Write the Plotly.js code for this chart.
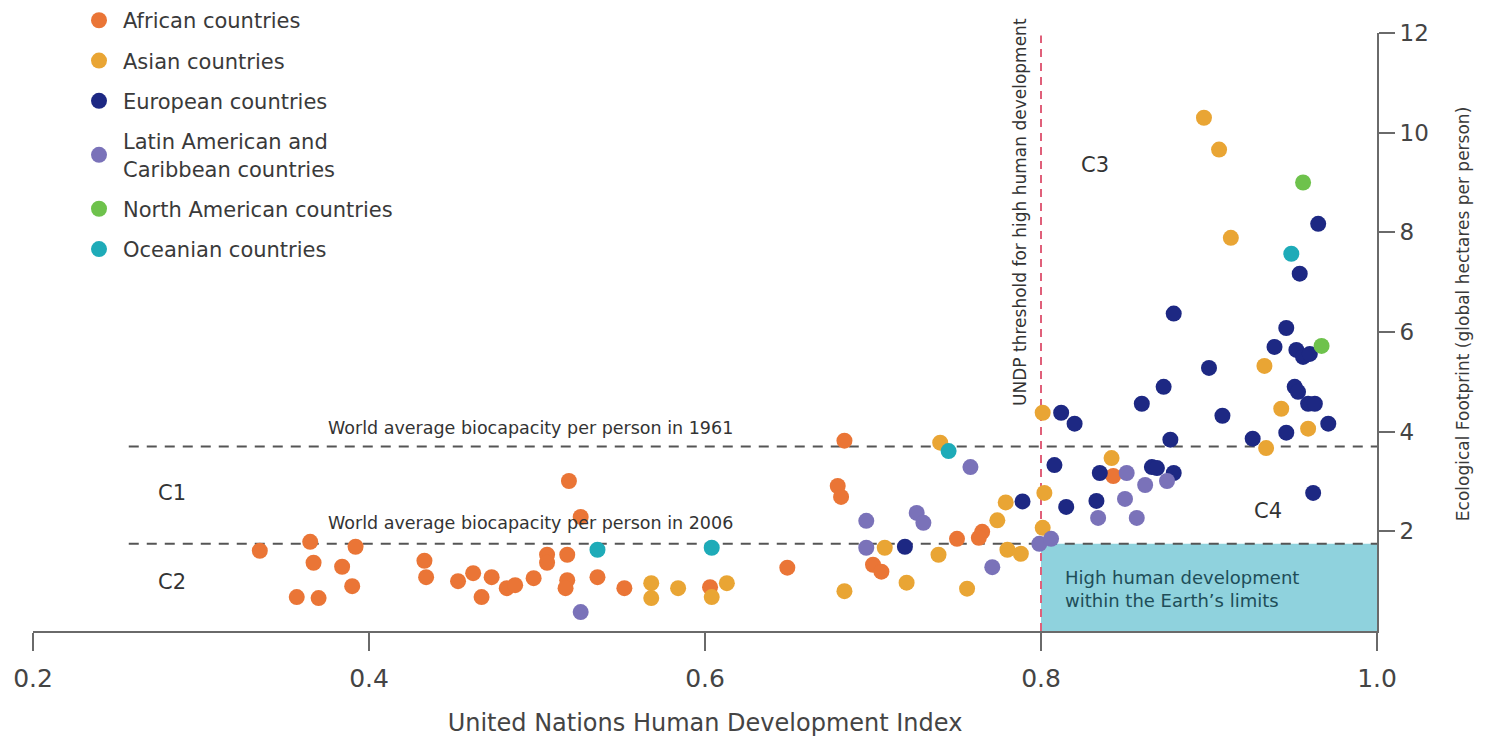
<!DOCTYPE html>
<html>
<head>
<meta charset="utf-8">
<script src="https://cdn.plot.ly/plotly-3.0.1.min.js"></script>
<style>html,body{margin:0;padding:0;background:#fff;}#chart{width:1495px;height:743px;}</style>
</head>
<body>
<div id="chart"></div>
<script>
// ---- Data (HDI on x, Ecological Footprint on y) ----
const africaX = [0.519,0.526,0.335,0.365,0.392,0.367,0.384,0.390,0.357,0.370,0.433,0.434,0.453,0.462,0.473,0.467,0.482,0.487,0.498,0.506,0.506,0.518,0.518,0.517,0.536,0.552,0.683,0.679,0.681,0.750,0.765,0.763,0.603,0.649,0.700,0.705,0.843];
const africaY = [3.01,2.29,1.61,1.79,1.69,1.37,1.29,0.90,0.68,0.66,1.41,1.08,1.00,1.16,1.08,0.68,0.86,0.92,1.06,1.53,1.37,1.53,1.02,0.86,1.08,0.86,3.82,2.91,2.69,1.85,1.99,1.87,0.88,1.27,1.33,1.19,3.11];

const asiaX = [0.740,0.779,0.802,0.774,0.801,0.707,0.739,0.780,0.788,0.568,0.568,0.584,0.604,0.613,0.683,0.720,0.756,0.897,0.906,0.913,0.933,0.943,0.801,0.959,0.934,0.842];
const asiaY = [3.78,2.58,2.77,2.22,2.07,1.67,1.53,1.63,1.55,0.96,0.66,0.86,0.68,0.96,0.80,0.97,0.85,10.30,9.66,7.89,5.32,4.46,4.38,4.06,3.67,3.47];

const europeX = [0.789,0.719,0.879,0.946,0.939,0.952,0.956,0.960,0.900,0.873,0.951,0.953,0.860,0.959,0.963,0.908,0.812,0.820,0.971,0.946,0.877,0.926,0.808,0.835,0.866,0.869,0.879,0.815,0.833,0.962,0.965,0.954];
const europeY = [2.60,1.69,6.37,6.08,5.70,5.64,5.50,5.56,5.28,4.90,4.90,4.80,4.56,4.56,4.56,4.32,4.38,4.16,4.16,3.98,3.84,3.86,3.33,3.17,3.29,3.27,3.17,2.49,2.61,2.77,8.17,7.17];

const latamX = [0.526,0.758,0.696,0.726,0.730,0.696,0.799,0.806,0.771,0.851,0.875,0.862,0.850,0.834,0.857];
const latamY = [0.38,3.29,2.21,2.37,2.17,1.67,1.75,1.85,1.28,3.17,3.01,2.93,2.65,2.27,2.27];

const northAmX = [0.956,0.967];
const northAmY = [9.00,5.72];

const oceaniaX = [0.536,0.604,0.745,0.949];
const oceaniaY = [1.63,1.67,3.61,7.57];

const seriesNames = ["African countries","Asian countries","European countries","Latin American and<br>Caribbean countries","North American countries","Oceanian countries"];
const seriesColors = ["#ea7536","#e9a534","#1d2883","#7a72b9","#6ec24c","#1eabb8"];

const xTicks = [0.2,0.4,0.6,0.8,1.0];
const xTickText = ["0.2","0.4","0.6","0.8","1.0"];
const yTicks = [2,4,6,8,10,12];

const biocap1961 = 3.7;
const biocap2006 = 1.75;
const hdiThreshold = 0.8;

// ---- Build traces ----
const xs = [africaX, asiaX, europeX, latamX, northAmX, oceaniaX];
const ys = [africaY, asiaY, europeY, latamY, northAmY, oceaniaY];
const traces = xs.map((x, i) => ({
  type: 'scatter', mode: 'markers', x: x, y: ys[i],
  name: seriesNames[i], legendgroup: 'g' + i,
  marker: {color: seriesColors[i], size: 16, line: {width: 0}},
  hoverinfo: 'x+y+name'
}));

const FONT = "DejaVu Sans, Verdana, sans-serif";
const layout = {
  width: 1495, height: 743,
  margin: {l: 33, r: 118, t: 33, b: 112, autoexpand: false},
  paper_bgcolor: '#ffffff', plot_bgcolor: '#ffffff',
  font: {family: FONT, color: '#3a3a3a'},
  showlegend: true,
  legend: {
    x: 0.03125, y: 1.055, xanchor: 'left', yanchor: 'top',
    font: {size: 21, color: '#3a3a3a', family: FONT},
    bgcolor: 'rgba(0,0,0,0)', borderwidth: 0,
    traceorder: 'grouped', tracegroupgap: 10, itemwidth: 38
  },
  xaxis: {
    range: [0.2, 1.0], tickvals: xTicks, ticktext: xTickText,
    showgrid: false, zeroline: false, showline: true, linecolor: '#6a6a6a', linewidth: 2,
    ticks: 'outside', ticklen: 18, tickwidth: 2, tickcolor: '#6a6a6a',
    tickfont: {size: 25, color: '#444'}, ticklabelstandoff: 6,
    title: {text: 'United Nations Human Development Index', font: {size: 24, color: '#444'}, standoff: 22},
    fixedrange: true
  },
  yaxis: {
    range: [0, 12], side: 'right', tickvals: yTicks,
    showgrid: false, zeroline: false, showline: true, linecolor: '#6a6a6a', linewidth: 2,
    ticks: 'outside', ticklen: 16, tickwidth: 2, tickcolor: '#6a6a6a',
    tickfont: {size: 23, color: '#444'},
    fixedrange: true
  },
  shapes: [
    {type: 'rect', xref: 'x', yref: 'y', x0: hdiThreshold, x1: 1.0, y0: 0, y1: biocap2006,
     fillcolor: '#8fd2dd', line: {width: 0}, layer: 'below'},
    {type: 'line', xref: 'x', yref: 'y', x0: 0.257, x1: 1.0, y0: biocap1961, y1: biocap1961,
     line: {color: '#555', width: 2, dash: '10px,8px'}, layer: 'below'},
    {type: 'line', xref: 'x', yref: 'y', x0: 0.257, x1: 1.0, y0: biocap2006, y1: biocap2006,
     line: {color: '#555', width: 2, dash: '10px,8px'}, layer: 'below'},
    {type: 'line', xref: 'x', yref: 'y', x0: hdiThreshold, x1: hdiThreshold, y0: 0, y1: 11.95,
     line: {color: '#e0607a', width: 2, dash: '8px,6px'}, layer: 'below'}
  ],
  annotations: [
    {xref: 'paper', yref: 'paper', x: 1.073, y: 0.53, text: 'Ecological Footprint (global hectares per person)',
     textangle: -90, showarrow: false, font: {size: 17, color: '#3a3a3a'}},
    {xref: 'x', yref: 'y', x: 0.7875, y: 8.41, text: 'UNDP threshold for high human development',
     textangle: -90, showarrow: false, font: {size: 17, color: '#333'}},
    {xref: 'x', yref: 'y', x: 0.496, y: 4.08, text: 'World average biocapacity per person in 1961',
     showarrow: false, font: {size: 17.5, color: '#333'}},
    {xref: 'x', yref: 'y', x: 0.496, y: 2.17, text: 'World average biocapacity per person in 2006',
     showarrow: false, font: {size: 17.5, color: '#333'}},
    {xref: 'x', yref: 'y', x: 0.283, y: 2.77, text: 'C1', showarrow: false, font: {size: 21, color: '#333'}},
    {xref: 'x', yref: 'y', x: 0.283, y: 0.98, text: 'C2', showarrow: false, font: {size: 21, color: '#333'}},
    {xref: 'x', yref: 'y', x: 0.832, y: 9.36, text: 'C3', showarrow: false, font: {size: 21, color: '#333'}},
    {xref: 'x', yref: 'y', x: 0.935, y: 2.41, text: 'C4', showarrow: false, font: {size: 21, color: '#333'}},
    {xref: 'x', yref: 'y', x: 0.813, y: 0.84, xanchor: 'left', align: 'left',
     text: 'High human development<br>within the Earth\u2019s limits', showarrow: false,
     font: {size: 18, color: '#1e4d58'}}
  ]
};

Plotly.newPlot('chart', traces, layout, {displayModeBar: false});
</script>
</body>
</html>
